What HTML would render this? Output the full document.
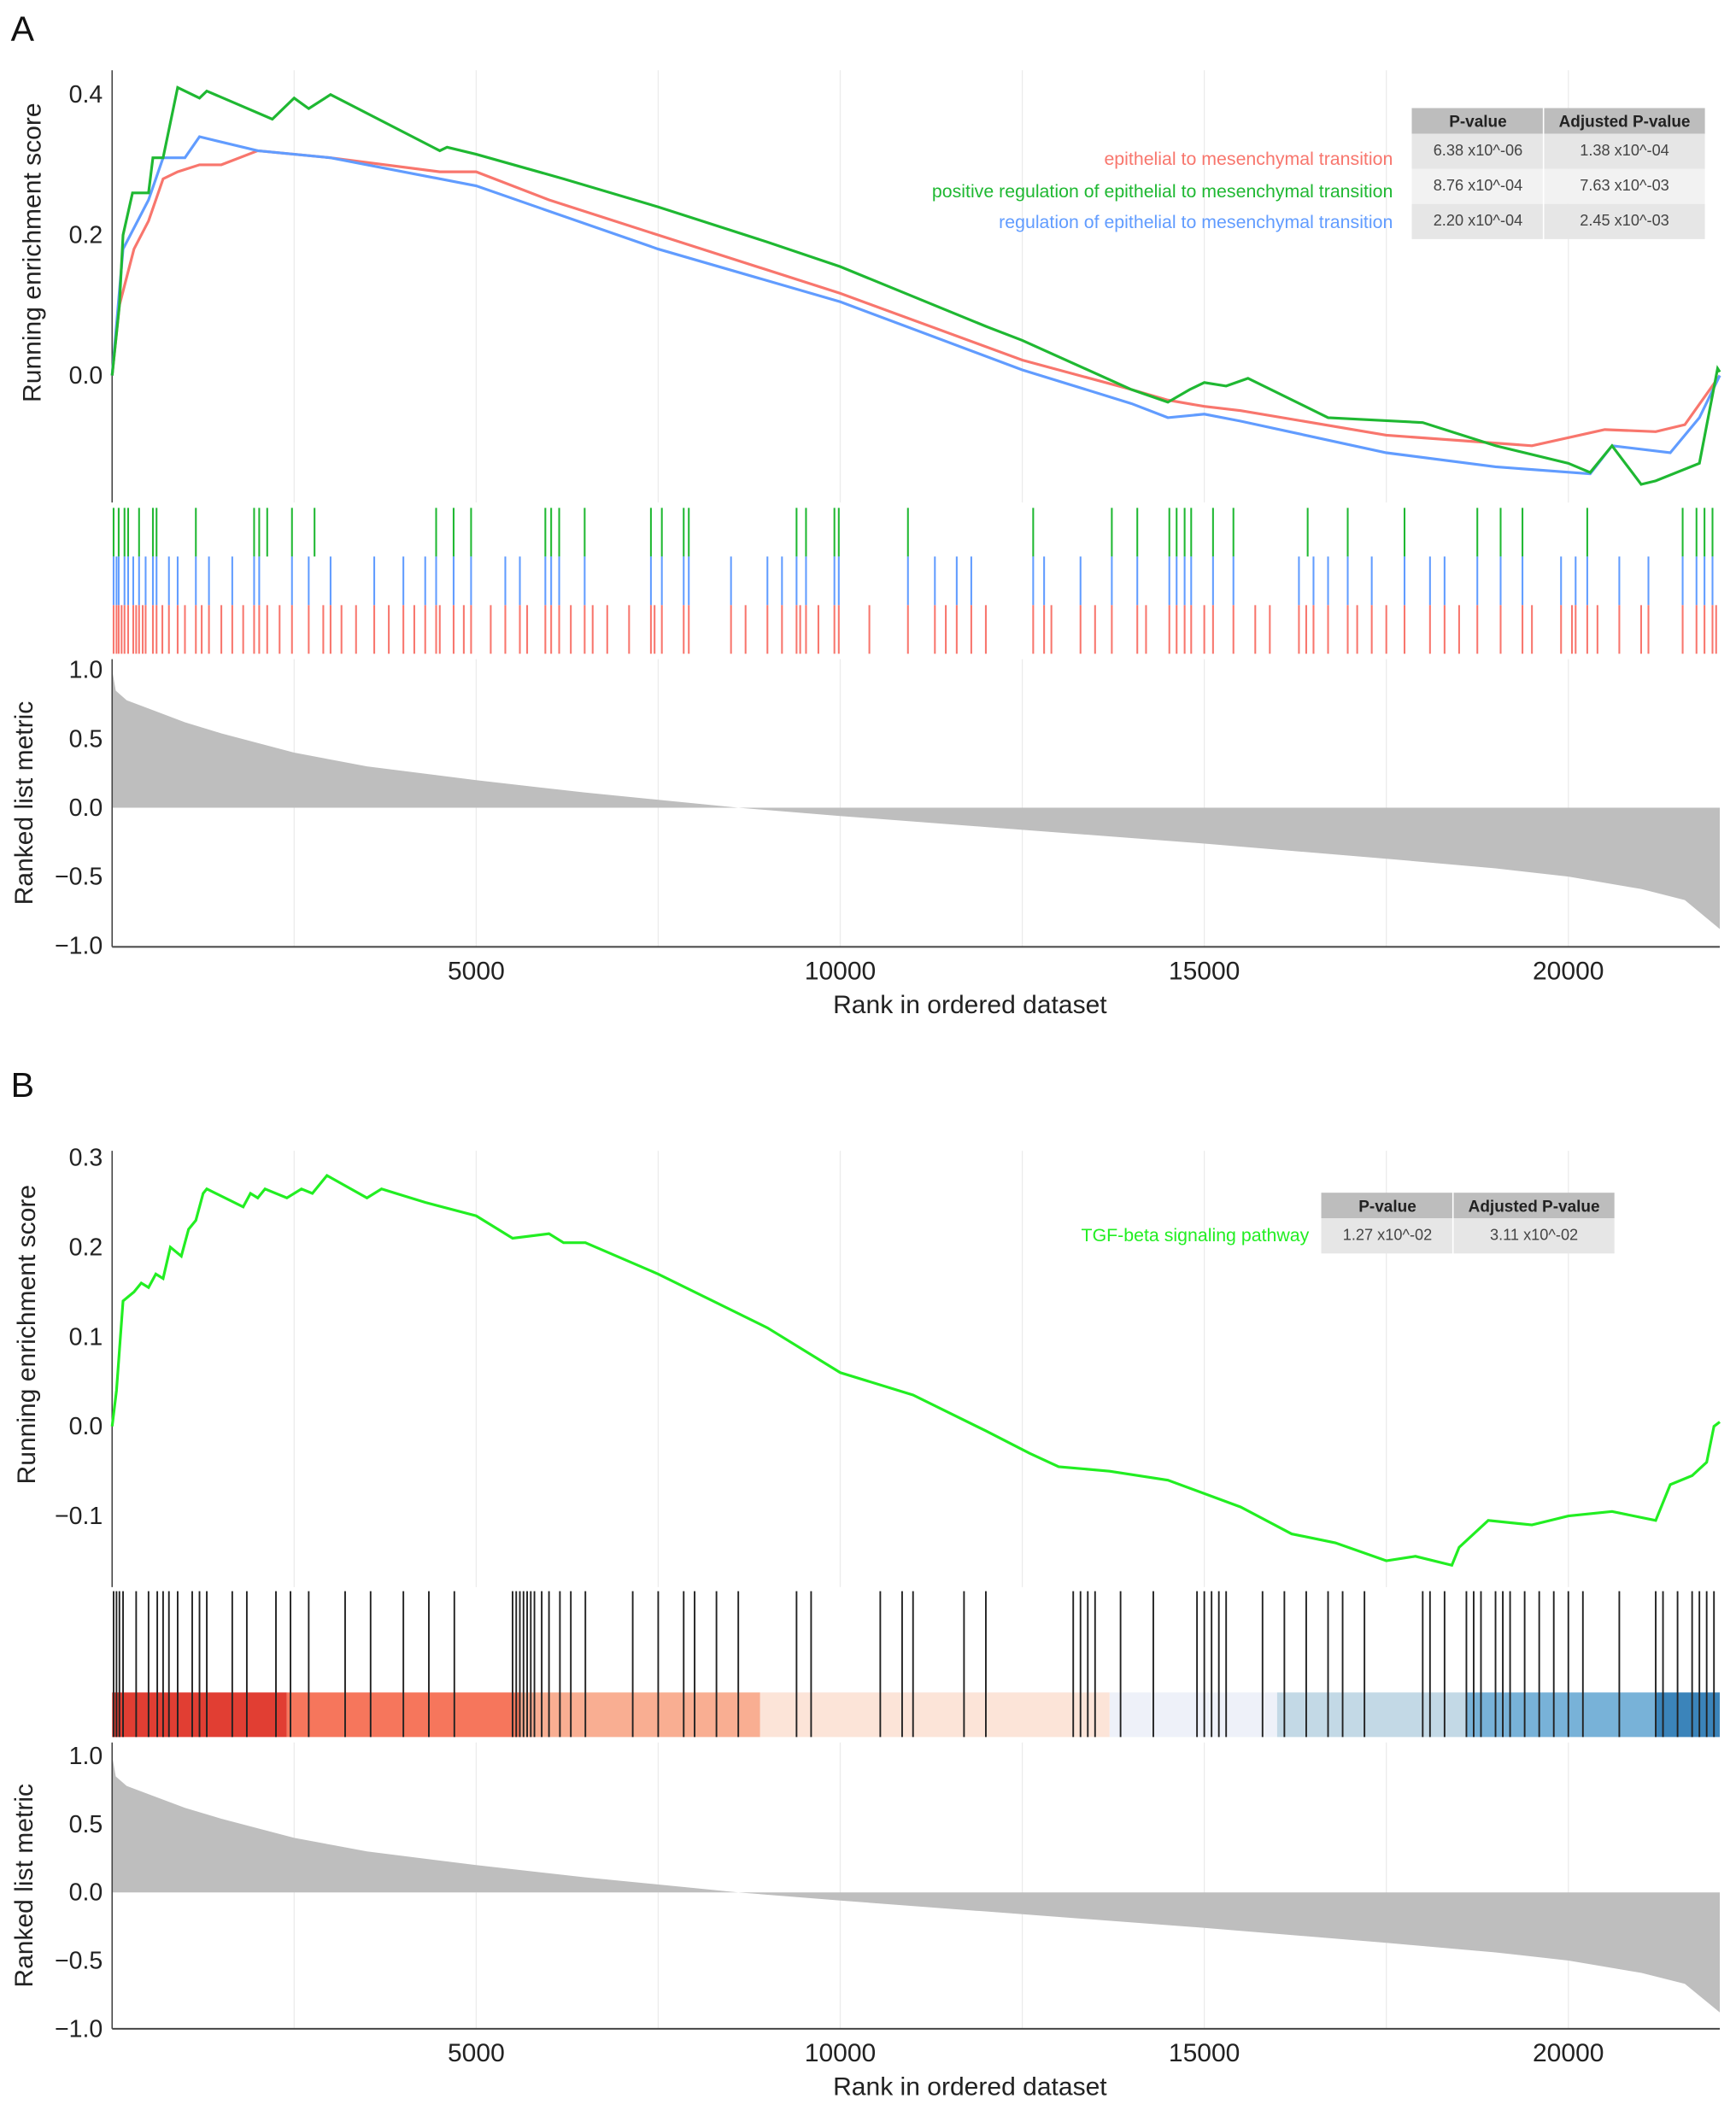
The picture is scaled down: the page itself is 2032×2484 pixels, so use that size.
<!DOCTYPE html>
<html><head><meta charset="utf-8"><style>
html,body{margin:0;padding:0;background:#fff}
svg{display:block}
text{font-family:"Liberation Sans",sans-serif}
</style></head><body>
<svg id="fig" width="2032" height="2484" viewBox="0 0 1285 1571" preserveAspectRatio="none" xmlns="http://www.w3.org/2000/svg"></svg>
<script>
// ---- data ----
const xTicks=[5000,10000,15000,20000];
const esTicksA=[0.4,0.2,0.0];
const esTicksB=[0.3,0.2,0.1,0.0,-0.1];
const metTicks=[1.0,0.5,0.0,-0.5,-1.0];
const greenRank=[0,100,150,280,500,560,700,800,900,1200,1300,2200,2400,2500,2700,3000,4500,4600,5000,6200,7500,9000,10000,12000,12500,14000,14500,14800,15000,15300,15600,16700,18000,19000,20000,20300,20600,21000,21200,21800,22050,22080];
const greenES=[0,0.1,0.2,0.26,0.26,0.31,0.31,0.36,0.41,0.395,0.405,0.365,0.385,0.395,0.38,0.40,0.32,0.325,0.315,0.28,0.24,0.19,0.155,0.07,0.05,-0.02,-0.038,-0.02,-0.01,-0.015,-0.004,-0.06,-0.067,-0.1,-0.125,-0.138,-0.1,-0.155,-0.15,-0.125,0.01,0.005];
const redRank=[0,100,300,500,700,900,1200,1500,2000,3000,4500,5000,6000,7500,10000,12500,14000,14500,15000,15500,17500,19500,20500,21200,21600,22080];
const redES=[0,0.1,0.18,0.22,0.28,0.29,0.30,0.30,0.32,0.31,0.29,0.29,0.25,0.20,0.117,0.022,-0.02,-0.035,-0.044,-0.05,-0.085,-0.1,-0.077,-0.08,-0.07,0.0];
const blueRank=[0,150,500,700,1000,1200,2000,3000,5000,7500,10000,12500,14000,14500,15000,15500,17500,19000,20300,20600,21400,21800,22080];
const blueES=[0,0.18,0.25,0.31,0.31,0.34,0.32,0.31,0.27,0.18,0.105,0.008,-0.04,-0.06,-0.055,-0.065,-0.11,-0.13,-0.14,-0.1,-0.11,-0.06,0.0];
const greenHits=[20,90,170,220,370,560,610,1150,1950,2020,2130,2470,2780,4450,4690,4930,5950,6030,6140,6490,7400,7550,7850,7920,9400,9530,9920,9980,10930,12650,13730,14080,14520,14620,14730,14820,15120,15400,16420,16970,17750,18750,19070,19370,20260,21570,21760,21870,21980];
const blueHits=[20,60,90,170,220,290,370,460,560,610,780,900,1150,1330,1650,1950,2020,2470,2700,3000,3600,4000,4300,4450,4690,4930,5400,5600,5950,6030,6140,6490,7400,7550,7850,7920,8500,9000,9200,9400,9530,9920,9980,10930,11300,11600,11800,12650,12800,13300,13730,14080,14520,14620,14730,14820,15120,15400,16300,16500,16700,16970,17300,17750,18100,18300,18750,19070,19370,19900,20100,20260,20700,21100,21570,21760,21870,21980];
const redHits=[20,60,90,130,170,220,290,330,370,420,460,560,610,690,780,900,1000,1150,1230,1330,1500,1650,1800,1950,2020,2130,2300,2470,2700,2900,3000,3150,3350,3600,3800,4000,4150,4300,4450,4500,4690,4830,4930,5200,5400,5600,5700,5950,6030,6140,6300,6490,6600,6800,7100,7400,7450,7550,7850,7920,8500,8700,9000,9200,9400,9450,9530,9700,9920,9980,10400,10930,11300,11450,11600,11800,12000,12650,12800,12900,13300,13500,13730,14080,14200,14520,14620,14730,14820,15000,15120,15400,15700,15900,16300,16400,16500,16700,16970,17100,17300,17500,17750,18100,18300,18500,18750,19070,19370,19500,19900,20050,20100,20260,20400,20700,21000,21100,21570,21760,21870,21980,22030];
const tgfRank=[0,60,150,300,400,500,600,700,800,950,1050,1150,1250,1300,1800,1900,2000,2100,2400,2600,2750,2950,3500,3700,4300,5000,5500,6000,6200,6500,7500,9000,10000,11000,12000,12600,13000,13700,14500,15500,16200,16800,17500,17900,18400,18500,18900,19500,20000,20600,21200,21400,21700,21900,22000,22080];
const tgfES=[0,0.04,0.14,0.15,0.16,0.155,0.17,0.165,0.2,0.19,0.22,0.23,0.26,0.265,0.245,0.26,0.255,0.265,0.255,0.265,0.26,0.28,0.255,0.265,0.25,0.235,0.21,0.215,0.205,0.205,0.17,0.11,0.06,0.035,-0.005,-0.03,-0.045,-0.05,-0.06,-0.09,-0.12,-0.13,-0.15,-0.145,-0.155,-0.135,-0.105,-0.11,-0.10,-0.095,-0.105,-0.065,-0.055,-0.04,0.0,0.005];
const tgfHits=[20,60,100,150,330,500,620,700,780,900,1100,1200,1300,1650,1850,2250,2450,2700,3200,3550,4000,4350,4700,5500,5550,5600,5650,5700,5750,5800,5900,6000,6150,6300,6500,7150,7500,7850,8000,8300,8600,9400,9600,10550,10850,11000,11700,12000,13200,13300,13400,13500,13850,14300,14900,15000,15100,15200,15300,15800,16100,16400,16700,16900,17200,18000,18100,18300,18600,18700,18800,19000,19100,19200,19400,19600,19800,20000,20200,20700,21200,21300,21500,21700,21800,21900,22000];
const bandStarts=[0,2400,5600,8900,13700,16000,18600,21200];
const bandColors=['#e13e33','#f6765c','#f9ae92','#fce4d8','#eef1f9','#c3d9e6','#78b2d8','#3b84ba'];
const metRank=[0,50,200,500,1000,1500,2500,3500,5000,6500,8600,10000,12000,15000,17500,19000,20000,21000,21600,22080];
const metVal=[1.0,0.85,0.78,0.72,0.62,0.54,0.40,0.30,0.20,0.11,0.0,-0.06,-0.14,-0.26,-0.37,-0.44,-0.50,-0.59,-0.67,-0.88];
// ---- helpers ----
const svg=document.getElementById('fig');const NS='http://www.w3.org/2000/svg';
function mk(tag,attrs,parent){const e=document.createElementNS(NS,tag);for(const k in attrs)e.setAttribute(k,attrs[k]);(parent||svg).appendChild(e);return e;}
const X0=83,X1=1273,XMAX=22080;
const xs=r=>X0+(X1-X0)*r/XMAX;
function lin(d0,d1,r0,r1){return v=>r0+(v-d0)*(r1-r0)/(d1-d0);}
function txt(s,x,y,attrs,name){const t=mk('text',Object.assign({x:x,y:y},attrs));t.textContent=s;return t;}
function grid(y0,y1){for(let r=2500;r<XMAX;r+=2500){const l=mk('line',{x1:xs(r),x2:xs(r),y1:y0,y2:y1,stroke:'#ebebeb','stroke-width':0.8});}}
function path(rs,vs,ys,color,name){let d='';for(let i=0;i<rs.length;i++)d+=(i?'L':'M')+xs(rs[i]).toFixed(2)+','+ys(vs[i]).toFixed(2);const p=mk('path',{d:d,fill:'none',stroke:color,'stroke-width':2});}
function hits(arr,y0,y1,color,w,name){arr.forEach(r=>{const l=mk('line',{x1:xs(r),x2:xs(r),y1:y0,y2:y1,stroke:color,'stroke-width':w});});}
function metric(top,bot,ys,prefix){grid(top,bot);let d='M'+xs(0)+','+ys(0);for(let i=0;i<metRank.length;i++)d+='L'+xs(metRank[i]).toFixed(2)+','+ys(metVal[i]).toFixed(2);d+='L'+xs(XMAX)+','+ys(0)+'Z';const a=mk('path',{d:d,fill:'#bebebe'});
 mk('line',{x1:X0,x2:X0,y1:top,y2:bot,stroke:'#444','stroke-width':1});mk('line',{x1:X0,x2:X1,y1:bot,y2:bot,stroke:'#444','stroke-width':1.3});
 metTicks.forEach(v=>{txt(v.toFixed(1).replace('-','\u2212'),76,ys(v)+6,{'font-size':18,'text-anchor':'end',fill:'#222'},prefix+'metric-tick-label');});
 xTicks.forEach(v=>{txt(String(v),xs(v),bot+24,{'font-size':19,'text-anchor':'middle',fill:'#222'},prefix+'x-tick-label');});
 txt('Rank in ordered dataset',(X0+X1)/2+40,bot+49,{'font-size':19,'text-anchor':'middle',fill:'#222'},prefix+'x-axis-title');
 txt('Ranked list metric',0,0,{'font-size':19,'text-anchor':'middle',fill:'#222',transform:'translate(24,'+((top+bot)/2)+') rotate(-90)'},prefix+'metric-axis-title');}
function table(x,y,rows,prefix){const w1=98,w2=119,hh=19,rh=26;
 mk('rect',{x:x,y:y,width:w1-1,height:hh,fill:'#bdbdbd'});mk('rect',{x:x+w1,y:y,width:w2,height:hh,fill:'#bdbdbd'});
 txt('P-value',x+w1/2,y+14,{'font-size':12,'font-weight':'bold','text-anchor':'middle',fill:'#222'},prefix+'pvalue-header');
 txt('Adjusted P-value',x+w1+w2/2,y+14,{'font-size':12,'font-weight':'bold','text-anchor':'middle',fill:'#222'},prefix+'adj-pvalue-header');
 rows.forEach((r,i)=>{const yy=y+hh+i*rh;const c=i%2?'#f2f2f2':'#e6e6e6';mk('rect',{x:x,y:yy,width:w1-1,height:rh,fill:c});mk('rect',{x:x+w1,y:yy,width:w2,height:rh,fill:c});
  txt(r[0],x+w1/2,yy+16,{'font-size':11.5,'text-anchor':'middle',fill:'#444'},prefix+'pvalue-cell');
  txt(r[1],x+w1+w2/2,yy+16,{'font-size':11.5,'text-anchor':'middle',fill:'#444'},prefix+'adj-pvalue-cell');});}
// ---- Panel A ----
txt('A',8,30,{'font-size':26,fill:'#111'},'panel-a-label');
const yA=lin(0,0.4,278,70);
grid(52,372);
mk('line',{x1:X0,x2:X0,y1:52,y2:372,stroke:'#444','stroke-width':1});
esTicksA.forEach(v=>txt(v.toFixed(1),76,yA(v)+6,{'font-size':18,'text-anchor':'end',fill:'#222'},'a-es-tick-label'));
txt('Running enrichment score',0,0,{'font-size':19,'text-anchor':'middle',fill:'#222',transform:'translate(30,187) rotate(-90)'},'a-es-axis-title');
path(redRank,redES,yA,'#f8766d','a-emt-line');
path(blueRank,blueES,yA,'#619cff','a-reg-emt-line');
path(greenRank,greenES,yA,'#1fb832','a-pos-reg-emt-line');
hits(greenHits,376,412,'#1fb832',1.3,'a-pos-reg-hit');
hits(blueHits,412,448,'#619cff',1.3,'a-reg-hit');
hits(redHits,448,484,'#f8766d',1.3,'a-emt-hit');
txt('epithelial to mesenchymal transition',1031,122,{'font-size':13.5,'text-anchor':'end',fill:'#f8766d'},'a-legend-emt');
txt('positive regulation of epithelial to mesenchymal transition',1031,146,{'font-size':13.5,'text-anchor':'end',fill:'#1fb832'},'a-legend-pos-reg');
txt('regulation of epithelial to mesenchymal transition',1031,169,{'font-size':13.5,'text-anchor':'end',fill:'#619cff'},'a-legend-reg');
table(1045,80,[['6.38 x10^-06','1.38 x10^-04'],['8.76 x10^-04','7.63 x10^-03'],['2.20 x10^-04','2.45 x10^-03']],'a-');
metric(488,701,lin(0,1,598,496),'a-');
// ---- Panel B ----
txt('B',8,812,{'font-size':26,fill:'#111'},'panel-b-label');
const yB=lin(0,0.3,1056,857);
grid(852,1175);
mk('line',{x1:X0,x2:X0,y1:852,y2:1175,stroke:'#444','stroke-width':1});
esTicksB.forEach(v=>txt(v.toFixed(1).replace('-','\u2212'),76,yB(v)+6,{'font-size':18,'text-anchor':'end',fill:'#222'},'b-es-tick-label'));
txt('Running enrichment score',0,0,{'font-size':19,'text-anchor':'middle',fill:'#222',transform:'translate(26,988) rotate(-90)'},'b-es-axis-title');
path(tgfRank,tgfES,yB,'#22ee22','b-tgf-line');
bandStarts.forEach((s,i)=>{const e=i+1<bandStarts.length?bandStarts[i+1]:XMAX;const r=mk('rect',{x:xs(s),y:1253,width:xs(e)-xs(s),height:33,fill:bandColors[i]});});
hits(tgfHits,1178,1286,'#222',1.2,'b-tgf-hit');
txt('TGF-beta signaling pathway',969,919,{'font-size':13.5,'text-anchor':'end',fill:'#22ee22'},'b-legend-tgf');
table(978,883,[['1.27 x10^-02','3.11 x10^-02']],'b-');
metric(1290,1502,lin(0,1,1401,1300),'b-');
</script>
</body></html>
